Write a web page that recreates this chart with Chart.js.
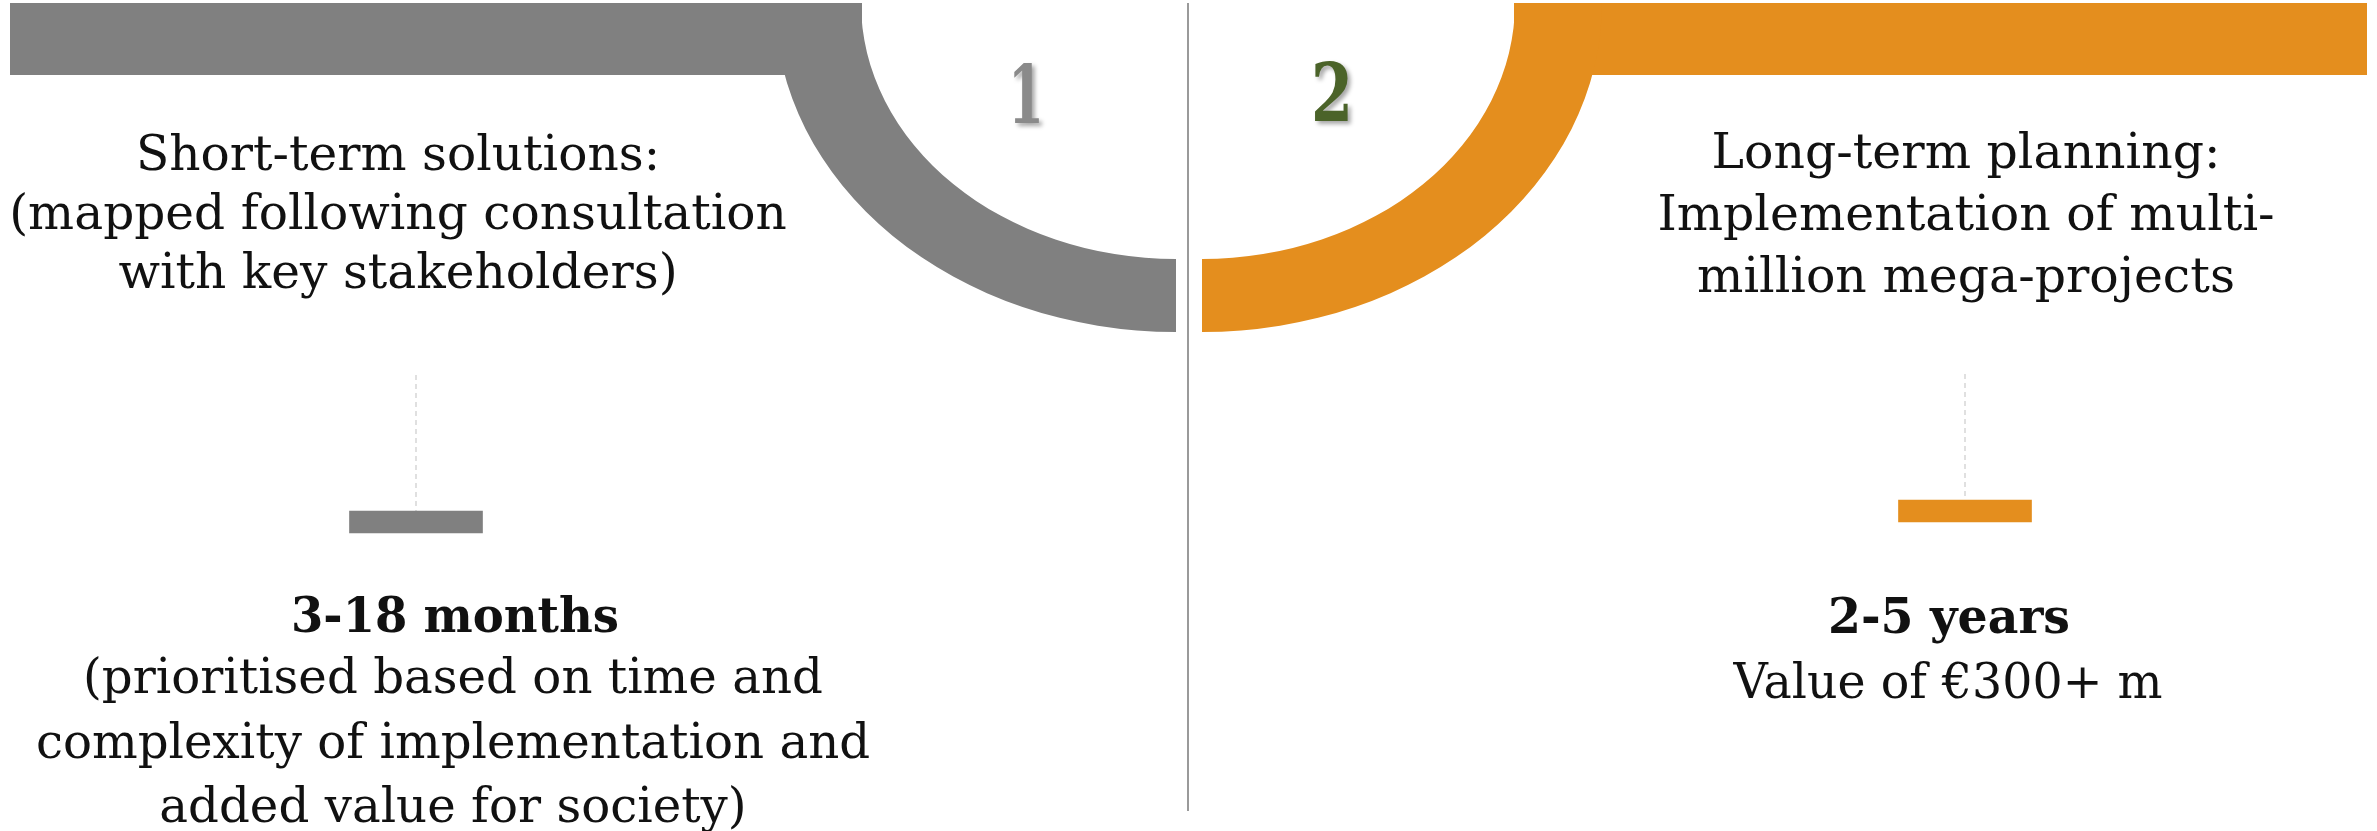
<!DOCTYPE html>
<html>
<head>
<meta charset="utf-8">
<script src="https://cdn.jsdelivr.net/npm/chart.js@4.4.0/dist/chart.umd.min.js"></script>
<style>
html, body { margin: 0; padding: 0; background: #fff; }
#wrap { position: relative; width: 2377px; height: 831px; }
</style>
</head>
<body>
<div id="wrap"><canvas id="horizons" width="2377" height="831"></canvas></div>
<script>
// two planning horizons
var phases = ['Short-term', 'Long-term'];
var phaseNumbers = ['1', '2'];
var phaseColors = ['#808080', '#E48E1E'];
var numberColors = ['#8a8a8a', '#4B6329'];
// floating bar ranges and the top of the dashed leader line (hidden 0-10 scale)
var barRanges = [[1.85, 2.95], [2.4, 3.5]];
var leaderTops = [9.75, 9.8];
var titles = [
    ['Short-term solutions:', '(mapped following consultation', 'with key stakeholders)'],
    ['Long-term planning:', 'Implementation of multi-', 'million mega-projects']
];
var durations = ['3-18 months', '2-5 years'];
var notes = [
    ['(prioritised based on time and', 'complexity of implementation and', 'added value for society)'],
    ['Value of €300+ m']
];

var SERIF = '"DejaVu Serif", "Liberation Serif", serif';

function ring(ctx, cx, cy, rxO, ryO, rxI, ryI, a0, a1) {
    ctx.beginPath();
    ctx.ellipse(cx, cy, rxO, ryO, 0, a0, a1, false);
    ctx.ellipse(cx, cy, rxI, ryI, 0, a1, a0, true);
    ctx.closePath();
    ctx.fill();
}

// draw lines centred on cx, squeezed so the first line has width refW
function textBlock(ctx, lines, cx, y0, lh, font, refW) {
    ctx.font = font;
    var sx = refW / ctx.measureText(lines[0]).width;
    lines.forEach(function (t, i) {
        ctx.save();
        ctx.translate(cx, y0 + i * lh);
        ctx.scale(sx, 1);
        ctx.fillText(t, 0, 0);
        ctx.restore();
    });
}

var decor = {
    id: 'decor',
    beforeDatasetsDraw: function (chart) {
        var ctx = chart.ctx;
        ctx.save();
        // gray band and quarter ring
        ctx.fillStyle = phaseColors[0];
        ctx.fillRect(10, 3, 852, 72);
        ring(ctx, 1176, 3, 401, 329, 315, 256, Math.PI / 2, Math.PI);
        // orange band and quarter ring
        ctx.fillStyle = phaseColors[1];
        ctx.fillRect(1514, 3, 853, 72);
        ring(ctx, 1202, 3, 400, 329, 313, 256, 0, Math.PI / 2);
        // divider
        ctx.strokeStyle = '#9a9a9a';
        ctx.lineWidth = 2;
        ctx.beginPath();
        ctx.moveTo(1188, 3);
        ctx.lineTo(1188, 811);
        ctx.stroke();
        ctx.restore();
    },
    afterDraw: function (chart) {
        var ctx = chart.ctx;
        ctx.save();
        ctx.textAlign = 'center';
        ctx.textBaseline = 'alphabetic';

        // big phase numbers with soft shadow
        ctx.shadowColor = 'rgba(0,0,0,0.35)';
        ctx.shadowBlur = 4;
        ctx.shadowOffsetX = 3;
        ctx.shadowOffsetY = 3;
        var numX = [1026, 1332], numY = [123, 121];
        phaseNumbers.forEach(function (n, i) {
            ctx.fillStyle = numberColors[i];
            textBlock(ctx, [n], numX[i], numY[i], 0, 'bold 80px ' + SERIF, i === 0 ? 36 : 42);
        });
        ctx.shadowColor = 'transparent';

        ctx.fillStyle = '#111';
        textBlock(ctx, titles[0], 398, 170, 59, '49px ' + SERIF, 524);
        textBlock(ctx, titles[1], 1966, 168, 62, '49px ' + SERIF, 509);

        textBlock(ctx, [durations[0]], 455, 632, 0, 'bold 49px ' + SERIF, 328);
        textBlock(ctx, [durations[1]], 1949, 633, 0, 'bold 49px ' + SERIF, 242);

        textBlock(ctx, notes[0], 453, 693, 64.5, '49px ' + SERIF, 740);
        textBlock(ctx, notes[1], 1948, 698, 64, '49px ' + SERIF, 429);
        ctx.restore();
    }
};

function leader(i) {
    return {
        type: 'line',
        label: phases[i] + ' leader',
        data: [{ x: phases[i], y: leaderTops[i] }, { x: phases[i], y: barRanges[i][1] }],
        borderColor: '#d6d6d6',
        borderDash: [5, 4],
        borderWidth: 1.5,
        pointRadius: 0,
        clip: false,
        order: 2
    };
}

var ctxH = document.getElementById('horizons').getContext('2d');
var chartH = new Chart(ctxH, {
    type: 'bar',
    data: {
        labels: phases,
        datasets: [{
            label: 'Horizon',
            data: barRanges,
            backgroundColor: phaseColors,
            barThickness: 133,
            clip: false,
            order: 1
        }, leader(0), leader(1)]
    },
    options: {
        responsive: false,
        animation: false,
        layout: { padding: { left: 416, right: 412, top: 370, bottom: 261 } },
        plugins: { legend: { display: false }, tooltip: { enabled: false } },
        scales: {
            x: { display: false, offset: false },
            y: { display: false, min: 0, max: 10 }
        }
    },
    plugins: [decor]
});
</script>
</body>
</html>
